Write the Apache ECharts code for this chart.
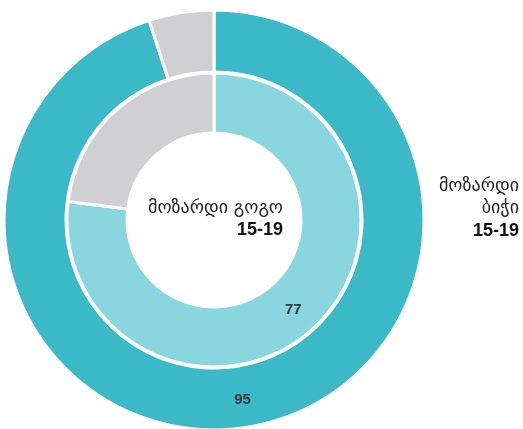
<!DOCTYPE html>
<html><head><meta charset="utf-8">
<script src="https://cdn.jsdelivr.net/npm/echarts@6/dist/echarts.min.js"></script>
<style>html,body{margin:0;padding:0;background:#fff}#c{width:523px;height:429px}</style>
</head><body><div id="c"></div>
<script>
const outerValues = [95, 5];
const innerValues = [77, 23];
const outerLabel = ['მოზარდი', 'ბიჭი', '15-19'];
const innerLabel = ['მოზარდი გოგო', '15-19'];

const chart = echarts.init(document.getElementById('c'));
const lbl = {show: true, position: 'inside', color: '#3a3a3a', fontWeight: 'bold', fontSize: 15,
  fontFamily: 'Liberation Sans, Arial, sans-serif',
  formatter: p => p.dataIndex === 0 ? p.value : ''};
const geo = {fill: '#222', fontSize: 18, fontFamily: 'DejaVu Sans, sans-serif', textAlign: 'right', textVerticalAlign: 'middle', align: 'right', verticalAlign: 'middle'};
const num = {fill: '#111', fontSize: 18, fontWeight: 'bold', fontFamily: 'Liberation Sans, Arial, sans-serif', textAlign: 'right', textVerticalAlign: 'middle', align: 'right', verticalAlign: 'middle'};
function t(text, x, y, st) { return {type: 'text', x: x, y: y, z: 100, style: Object.assign({text: text}, st)}; }
chart.setOption({
  animation: false,
  series: [
    {type: 'pie', center: [214, 220], radius: [148, 210], startAngle: 90, clockwise: true,
     silent: true, label: lbl, labelLine: {show: false},
     itemStyle: {borderColor: '#fff', borderWidth: 3},
     data: [{value: outerValues[0], itemStyle: {color: '#3BB9C7'}}, {value: outerValues[1], itemStyle: {color: '#D0CFD1'}}]},
    {type: 'pie', center: [214, 220], radius: [87, 147], startAngle: 90, clockwise: true,
     silent: true, label: lbl, labelLine: {show: false},
     itemStyle: {borderColor: '#fff', borderWidth: 3},
     data: [{value: innerValues[0], itemStyle: {color: '#8AD6DE'}}, {value: innerValues[1], itemStyle: {color: '#D0CFD1'}}]}
  ],
  graphic: [
    t(outerLabel[0], 519, 186, geo),
    t(outerLabel[1], 519, 208, geo),
    t(outerLabel[2], 519, 231, num),
    t(innerLabel[0], 283, 208, geo),
    t(innerLabel[1], 283, 230, num)
  ]
});
</script></body></html>
